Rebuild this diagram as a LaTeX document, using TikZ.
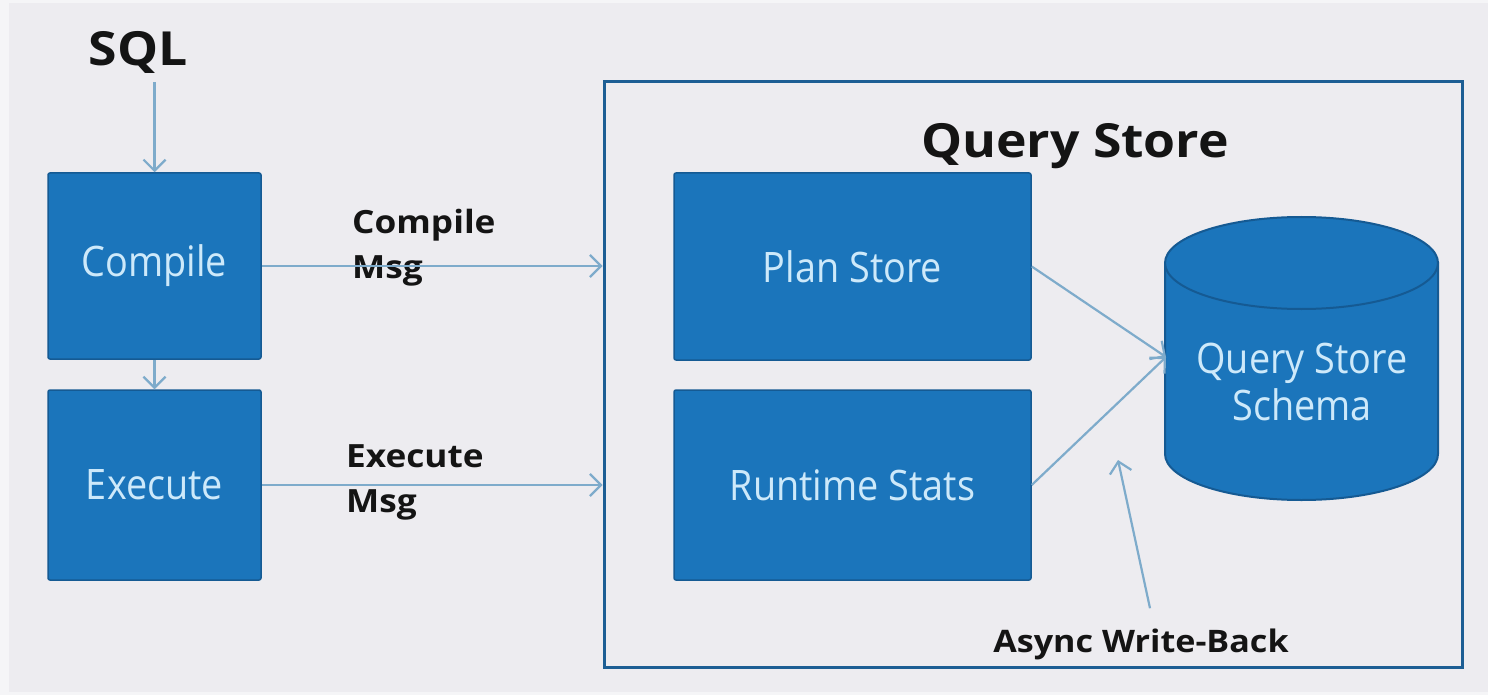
\documentclass[tikz,border=0pt]{standalone}
\usepackage{fontspec}
\usetikzlibrary{arrows.meta}
\newfontfamily\regf{Open Sans}[FakeStretch=0.9]
\newfontfamily\boldf{Open Sans}[FakeStretch=1.1]
\definecolor{bgc}{HTML}{EDECF0}
\definecolor{bgedge}{HTML}{F5F5F7}
\definecolor{boxfill}{HTML}{1B75BB}
\definecolor{boxline}{HTML}{155A93}
\definecolor{boxtext}{HTML}{CDE9FA}
\definecolor{arrc}{HTML}{7EABCB}
\definecolor{outerc}{HTML}{1D5E94}
\definecolor{txt}{HTML}{141414}
\tikzset{
  blk/.style={draw=boxline, line width=1.5pt, fill=boxfill, rounded corners=2pt,
    text=boxtext, font=\regf\fontsize{42}{47}\selectfont, inner sep=0pt},
  arr/.style={draw=arrc, line width=2.2pt, -{Straight Barb[length=11pt,width=22pt,line width=2.2pt]}},
  lbl/.style={text=txt, font=\boldf\bfseries\fontsize{32}{45}\selectfont, inner sep=0pt, align=left},
}
\begin{document}
\begin{tikzpicture}[x=1pt,y=-1pt]
\useasboundingbox (0,0) rectangle (1488,695);
\fill[bgedge] (0,0) rectangle (1488,695);
\fill[bgc] (9,3) rectangle (1488,692);
% outer box
\node[draw=outerc, line width=3pt, minimum width=858pt, minimum height=585pt, inner sep=0pt] (qs) at (1033,374.5) {};
\node[text=txt, font=\boldf\bfseries\fontsize{47}{55}\selectfont, inner sep=0pt, anchor=base] (qst) at (1075,158) {Query Store};
% SQL
\node[text=txt, font=\boldf\bfseries\fontsize{47}{55}\selectfont, inner sep=0pt, anchor=base] (sql) at (138,66) {SQL};
% boxes
\node[blk, minimum width=213pt, minimum height=186pt] (compile) at (154.5,266) {Compile};
\node[blk, minimum width=213pt, minimum height=190pt] (execute) at (154.5,485) {Execute};
\node[blk, minimum width=357pt, minimum height=187pt] (plan) at (852.5,266.5) {Plan Store};
\node[blk, minimum width=357pt, minimum height=190pt] (runtime) at (852.5,485) {Runtime Stats};
% cylinder
\filldraw[fill=boxfill, draw=boxline, line width=2pt]
  (1165,263) -- (1165,454) arc[start angle=180, end angle=360, x radius=136.5pt, y radius=46pt]
  -- (1438,263) -- cycle;
\filldraw[fill=boxfill, draw=boxline, line width=2pt] (1301.5,263) ellipse [x radius=136.5pt, y radius=46pt];
\node[text=boxtext, font=\regf\fontsize{42}{47}\selectfont, inner sep=0pt, align=center, anchor=base] (db) at (1302,420) {Query Store\\Schema};
\coordinate (dbin) at (1166,357);
% labels
\node[lbl, anchor=north west] (cmsg) at (352,209) {Compile\\Msg};
\node[lbl, anchor=north west] (emsg) at (346,444) {Execute\\Msg};
\node[text=txt, font=\boldf\bfseries\fontsize{31}{40}\selectfont, inner sep=0pt, anchor=base] (async) at (1141,652) {Async Write-Back};
\coordinate (wbtip) at (1118,460);
% connectors
\draw[arr] (sql.south -| compile.north) ++(0,8) -- (compile.north);
\draw[arr] (compile.south) -- (execute.north);
\draw[arr] (compile.east) -- (compile.east -| qs.west);
\draw[arr] (execute.east) -- (execute.east -| qs.west);
\draw[arr] (plan.east) -- (dbin);
\draw[arr] (runtime.east) -- (dbin);
\draw[arr] ([xshift=9pt,yshift=20pt]async.north) -- (wbtip);
\end{tikzpicture}
\end{document}
